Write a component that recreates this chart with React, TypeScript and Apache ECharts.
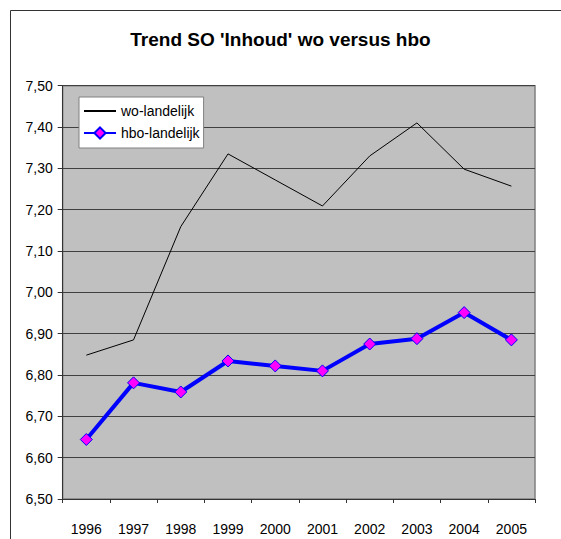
import React, { useEffect, useRef } from "react";
import * as echarts from "echarts";

const titleText = "Trend SO 'Inhoud' wo versus hbo";
const years = ["1996", "1997", "1998", "1999", "2000", "2001", "2002", "2003", "2004", "2005"];
const woName = "wo-landelijk";
const hboName = "hbo-landelijk";
const woValues = [6.848, 6.885, 7.159, 7.335, 7.272, 7.209, 7.33, 7.41, 7.298, 7.257];
const hboValues = [6.644, 6.781, 6.759, 6.834, 6.822, 6.81, 6.875, 6.888, 6.951, 6.885];
const yMin = 6.5;
const yMax = 7.5;
const yInterval = 0.1;

const FONT = "'Liberation Sans', Arial, sans-serif";

export default function App() {
  const ref = useRef<HTMLDivElement>(null);
  useEffect(() => {
    if (!ref.current) return;
    const chart = echarts.init(ref.current, null, { renderer: "svg" });
    chart.setOption({
      animation: false,
      backgroundColor: "#ffffff",
      textStyle: { fontFamily: FONT },
      title: {
        text: titleText,
        left: "center",
        top: 30,
        padding: [0, 0, 0, 4],
        textStyle: { fontFamily: FONT, fontSize: 19, fontWeight: "bold", color: "#000" },
      },
      graphic: [
        { type: "line", shape: { x1: 10.5, y1: 10.5, x2: 561, y2: 10.5 }, style: { stroke: "#333", lineWidth: 1 }, silent: true },
        { type: "line", shape: { x1: 10.5, y1: 10.5, x2: 10.5, y2: 539 }, style: { stroke: "#333", lineWidth: 1 }, silent: true },
      ],
      legend: {
        orient: "vertical",
        left: 79,
        top: 97,
        padding: [7, 4, 8, 4],
        itemGap: 8,
        itemWidth: 32,
        itemHeight: 14,
        backgroundColor: "#ffffff",
        borderColor: "#808080",
        borderWidth: 1,
        borderRadius: 0,
        textStyle: { fontFamily: FONT, fontSize: 14, color: "#000" },
        data: [{ name: woName, itemStyle: { opacity: 0 } }, { name: hboName }],
      },
      grid: {
        left: 62.7,
        right: 26,
        top: 85.7,
        bottom: 40,
        containLabel: false,
        outerBoundsMode: "none",
        show: true,
        backgroundColor: "#C0C0C0",
        borderColor: "#808080",
        borderWidth: 1.5,
      },
      xAxis: {
        type: "category",
        data: years,
        boundaryGap: true,
        axisLine: { show: true, lineStyle: { color: "#333", width: 1 } },
        axisTick: { show: true, length: 4, inside: false, alignWithLabel: false, lineStyle: { color: "#333" } },
        axisLabel: { fontFamily: FONT, fontSize: 14, color: "#000", margin: 23, interval: 0 },
        splitLine: { show: false },
      },
      yAxis: {
        type: "value",
        min: yMin,
        max: yMax,
        interval: yInterval,
        axisLine: { show: true, lineStyle: { color: "#333", width: 1 } },
        axisTick: { show: true, length: 5, inside: false, lineStyle: { color: "#333" } },
        axisLabel: {
          fontFamily: FONT,
          fontSize: 14,
          color: "#000",
          margin: 10,
          formatter: (v: number) => v.toFixed(2).replace(".", ","),
        },
        splitLine: { show: true, lineStyle: { color: "#404040", width: 1 } },
      },
      series: [
        {
          name: woName,
          type: "line",
          data: woValues,
          symbol: "circle",
          showSymbol: false,
          itemStyle: { color: "#000000", opacity: 0 },
          lineStyle: { color: "#000000", width: 1, opacity: 1 },
          z: 3,
        },
        {
          name: hboName,
          type: "line",
          data: hboValues,
          symbol: "diamond",
          symbolSize: 12,
          itemStyle: { color: "#FF00FF", borderColor: "#0000FF", borderWidth: 1 },
          lineStyle: { color: "#0000FF", width: 4 },
          z: 4,
        },
      ],
    });
    return () => chart.dispose();
  }, []);
  return (
    <div
      ref={ref}
      style={{ position: "absolute", left: 0, top: 0, width: 561, height: 539 }}
    />
  );
}
